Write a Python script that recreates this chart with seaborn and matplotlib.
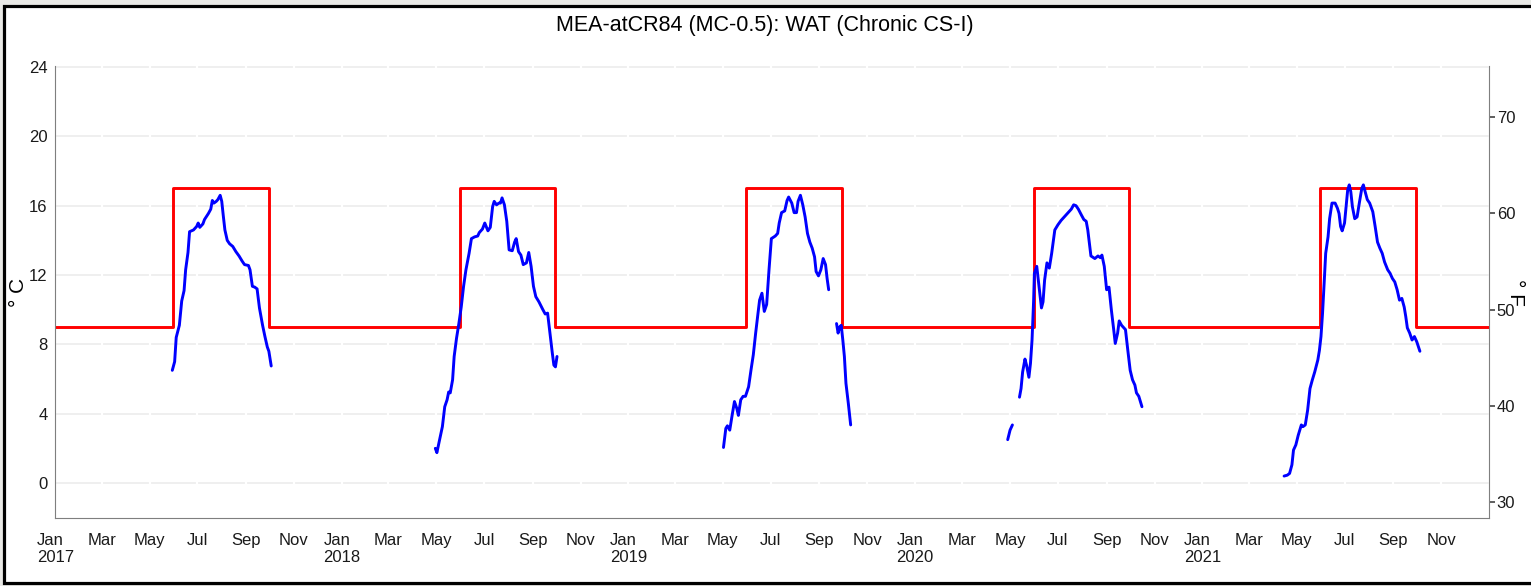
import numpy as np
import pandas as pd
import matplotlib
matplotlib.use("Agg")
import matplotlib.pyplot as plt
from matplotlib import font_manager
from matplotlib.patches import Rectangle
import seaborn as sns

TITLE = "MEA-atCR84 (MC-0.5): WAT (Chronic CS-I)"

# Temperature criterion (°C): 9 outside the summer window, 17 inside it
thr_dates = [
    "2017-01-01", "2017-05-31", "2017-09-30",
    "2018-05-31", "2018-09-30",
    "2019-05-31", "2019-09-30",
    "2020-05-31", "2020-09-30",
    "2021-05-31", "2021-09-30",
    "2022-01-01",
]
thr_values = [9, 17, 9, 17, 9, 17, 9, 17, 9, 17, 9, 9]

# Daily water temperature (°C), day-of-year offsets from 1 Jan of each year.
# NaN marks a gap in the logger record.
doy_2017 = [149, 152, 154, 158, 161, 164, 166, 169, 171, 176,
            180, 182, 184, 188, 190, 195, 198, 200, 202, 205,
            207, 210, 212, 214, 216, 219, 222, 226, 230, 234,
            238, 241, 246, 248, 251, 254, 257, 260, 264, 267,
            270, 272, 275]
wat_2017 = [6.5, 7.0, 8.4, 9.1, 10.5, 11.1, 12.3, 13.3, 14.5, 14.6,
            14.8, 15.0, 14.75, 14.95, 15.2, 15.55, 15.8, 16.3, 16.15, 16.25,
            16.35, 16.6, 16.25, 15.4, 14.6, 14.0, 13.8, 13.65, 13.35, 13.1,
            12.8, 12.6, 12.55, 12.3, 11.35, 11.3, 11.2, 10.1, 9.1, 8.45,
            7.85, 7.6, 6.75]

doy_2018 = [119, 121, 124, 128, 131, 134, 136, 138, 141, 143,
            146, 149, 152, 155, 158, 162, 165, 169, 173, 175,
            179, 182, 186, 189, 192, 194, 197, 200, 202, 204,
            207, 210, 213, 217, 220, 222, 225, 228, 231, 235,
            238, 241, 244, 247, 251, 256, 259, 262, 265, 268,
            270, 272, 274]
wat_2018 = [2.0, 1.75, 2.4, 3.25, 4.4, 4.8, 5.25, 5.2, 5.95, 7.3,
            8.35, 9.2, 10.15, 11.35, 12.3, 13.25, 14.1, 14.2, 14.25, 14.45,
            14.65, 15.0, 14.55, 14.75, 15.95, 16.25, 16.05, 16.15, 16.15, 16.45,
            16.05, 15.1, 13.45, 13.4, 13.9, 14.1, 13.35, 13.15, 12.6, 12.7,
            13.3, 12.5, 11.35, 10.75, 10.45, 10.0, 9.75, 9.8, 8.65, 7.5,
            6.8, 6.7, 7.3]

doy_2019 = [121, 124, 126, 129, 132, 135, 138, 140, 143, 146,
            149, 153, 156, 159, 162, 165, 167, 170, 173, 176,
            179, 182, 187, 190, 192, 195, 199, 202, 204, 208,
            211, 214, 216, 219, 222, 225, 228, 231, 234, 237,
            239, 242, 245, 248, 251, 253, 255,
            260,
            265, 267, 269, 271, 273, 275, 277, 280, 283]
wat_2019 = [2.05, 3.15, 3.3, 3.05, 3.9, 4.7, 4.3, 3.9, 4.8, 5.0,
            5.0, 5.55, 6.5, 7.4, 8.65, 9.8, 10.55, 10.95, 9.9, 10.3,
            12.3, 14.1, 14.25, 14.4, 15.0, 15.6, 15.7, 16.3, 16.5, 16.15,
            15.6, 15.6, 16.25, 16.6, 16.05, 15.35, 14.4, 13.9, 13.55, 13.05,
            12.2, 11.95, 12.3, 12.95, 12.6, 11.8, 11.15,
            np.nan,
            9.2, 8.65, 9.0, 9.1, 8.25, 7.3, 5.75, 4.6, 3.35]

doy_2020 = [118, 121, 124,
            128,
            133, 135, 137, 140, 142, 145, 147, 149, 151, 152,
            155, 157, 161, 163, 165, 168, 171, 174, 178, 182,
            186, 190, 195, 199, 202, 205, 208, 212, 215, 218,
            220, 222, 224, 229, 233, 236, 238, 241, 244, 247,
            250, 253, 255, 258, 260, 263, 265, 268, 271, 274,
            277, 280, 282, 285, 289]
wat_2020 = [2.5, 3.05, 3.35,
            np.nan,
            4.95, 5.45, 6.4, 7.15, 6.8, 6.1, 6.9, 8.25, 10.5, 12.1,
            12.5, 11.7, 10.1, 10.45, 11.7, 12.7, 12.4, 13.25, 14.6, 14.9,
            15.15, 15.35, 15.6, 15.8, 16.05, 16.0, 15.8, 15.45, 15.2, 15.1,
            14.6, 13.85, 13.1, 12.95, 13.1, 13.0, 13.15, 12.5, 11.15, 11.3,
            10.0, 8.85, 8.05, 8.65, 9.35, 9.1, 9.0, 8.85, 7.65, 6.5,
            5.95, 5.65, 5.2, 5.0, 4.4]

doy_2021 = [104, 108, 111, 114, 116, 119, 122, 126, 128, 131,
            134, 137, 140, 143, 147, 149, 151, 153, 155, 157,
            160, 162, 165, 169, 172, 174, 176, 178, 181, 183,
            185, 187, 189, 191, 194, 197, 200, 203, 205, 207,
            210, 213, 217, 220, 223, 226, 229, 232, 236, 239,
            242, 245, 248, 251, 254, 257, 259, 261, 264, 267,
            270, 273, 277]
wat_2021 = [0.4, 0.45, 0.55, 1.05, 1.9, 2.2, 2.75, 3.35, 3.25, 3.35,
            4.2, 5.45, 5.95, 6.4, 7.1, 7.65, 8.45, 9.8, 11.5, 13.25,
            14.2, 15.25, 16.15, 16.15, 15.85, 15.55, 14.8, 14.55, 15.0, 15.95,
            16.9, 17.2, 16.8, 15.95, 15.25, 15.35, 16.2, 17.0, 17.2, 16.85,
            16.35, 16.15, 15.65, 14.8, 13.9, 13.55, 13.25, 12.75, 12.3, 12.1,
            11.8, 11.6, 11.15, 10.55, 10.65, 10.15, 9.6, 8.95, 8.65, 8.25,
            8.45, 8.15, 7.6]

series = {
    2017: (doy_2017, wat_2017),
    2018: (doy_2018, wat_2018),
    2019: (doy_2019, wat_2019),
    2020: (doy_2020, wat_2020),
    2021: (doy_2021, wat_2021),
}

frames = []
for year, (doy, wat) in series.items():
    d = pd.DataFrame({"doy": doy, "wat": wat})
    d["segment"] = f"{year}-" + d["wat"].isna().cumsum().astype(str)
    d = d.dropna()
    d["date"] = pd.Timestamp(f"{year}-01-01") + pd.to_timedelta(d["doy"], unit="D")
    frames.append(d)
wat_df = pd.concat(frames, ignore_index=True)

thr_df = pd.DataFrame({"date": pd.to_datetime(thr_dates), "thr": thr_values})

# ---- styling ---------------------------------------------------------------
sns.set_theme(style="white")
installed = {f.name for f in font_manager.fontManager.ttflist}
base_font = "Liberation Sans Narrow" if "Liberation Sans Narrow" in installed else "Liberation Sans"
plt.rcParams["font.family"] = [base_font, "DejaVu Sans"]

W, H = 1531, 586
fig = plt.figure(figsize=(W / 100, H / 100), dpi=100, facecolor="#e9e9e6")

# page frame
fig.patches.append(Rectangle((3.5 / W, 1 - 583 / H), 1.2, (583 - 5.5) / H,
                             transform=fig.transFigure, facecolor="white",
                             edgecolor="black", linewidth=2.3, zorder=-1))

ax = fig.add_axes([55.3 / W, 1 - 518 / H, (1489 - 55.3) / W, (518 - 66) / H])
ax.set_facecolor("white")

sns.lineplot(data=thr_df, x="date", y="thr", color="#ff0000", linewidth=2.1,
             drawstyle="steps-post", ax=ax)
sns.lineplot(data=wat_df, x="date", y="wat", units="segment", estimator=None,
             color="#0000ff", linewidth=2.1, ax=ax)

ax.set_xlim(pd.Timestamp("2017-01-01"), pd.Timestamp("2022-01-01"))
ax.set_ylim(-2.02, 24.06)
ax.set_xlabel("")
ax.set_ylabel("")

tick_dates = pd.date_range("2017-01-01", "2021-11-01", freq="2MS")
tick_labels = [t.strftime("%b\n%Y") if t.month == 1 else t.strftime("%b") for t in tick_dates]
ax.set_xticks(tick_dates, labels=tick_labels)
for lbl in ax.get_xticklabels():
    lbl.set_multialignment("left")
ax.set_yticks(range(0, 25, 4))

ax.tick_params(axis="both", direction="out", length=4, width=1.1, color="#333333",
               labelsize=12, labelcolor="#1a1a1a")
ax.tick_params(axis="x", pad=6.5)
ax.tick_params(axis="y", pad=1.5)

# grey horizontal grid, broken by white month lines
ax.set_axisbelow(True)
ax.yaxis.grid(True, color="#ebebeb", linewidth=1.1)
ax.xaxis.grid(True, color="white", linewidth=1.6)
ax.xaxis.set_zorder(0.6)

for side in ("left", "bottom"):
    ax.spines[side].set_color("#7f7f7f")
    ax.spines[side].set_linewidth(0.8)
ax.spines["top"].set_visible(False)
ax.spines["right"].set_visible(False)

sec = ax.secondary_yaxis("right", functions=(lambda c: c * 9 / 5 + 32,
                                             lambda f: (f - 32) * 5 / 9))
sec.set_yticks([30, 40, 50, 60, 70])
sec.tick_params(axis="y", direction="out", length=4, width=1.1, color="#333333",
                labelsize=12, labelcolor="#1a1a1a", pad=1.5)
for sp in sec.spines.values():
    sp.set_color("#7f7f7f")
    sp.set_linewidth(0.8)

fig.text(19 / W, 1 - 292 / H, "° C", rotation=90, ha="center", va="center",
         fontsize=15, color="black")
fig.text(1516 / W, 1 - 292 / H, "° F", rotation=270, ha="center", va="center",
         fontsize=15, color="black")
fig.text(765 / W, 1 - 26 / H, TITLE, ha="center", va="center",
         fontsize=15.5, color="black")

fig.savefig("out.png", dpi=100, facecolor=fig.get_facecolor())
